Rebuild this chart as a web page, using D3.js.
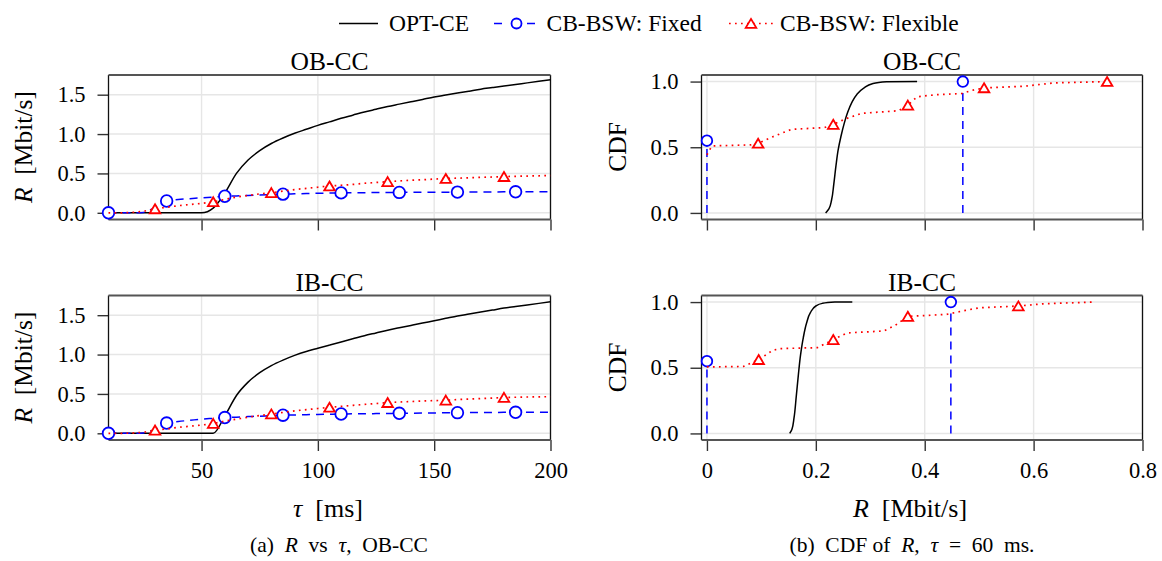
<!DOCTYPE html>
<meta charset="utf-8">
<style>
body { margin: 0; background: #fff; }
.axis text { font-size: 22.5px; }
.axis line { stroke: #333; stroke-width: 1.4px; }
.grid line { stroke: #e6e6e6; stroke-width: 1.4px; }
.opt { fill: none; stroke: #000; stroke-width: 1.5px; }
.fixed { fill: none; stroke: #0000ff; stroke-width: 1.5px; stroke-dasharray: 8,6; }
.flex { fill: none; stroke: #ff0000; stroke-width: 1.7px; stroke-dasharray: 1.7,4.3; }
.mk-c { fill: #fff; stroke: #0000ff; stroke-width: 1.8px; }
.mk-t { fill: #fff; stroke: #ff0000; stroke-width: 1.8px; }
</style>
<body>
<script src="https://d3js.org/d3.v7.min.js"></script>
<script>
// ---- data: (a) R vs tau ----
var tau = [10,15,20,25,30,35,40,45,50,55,60,65,70,75,80,85,90,95,100,105,110,115,120,125,130,135,140,145,150,155,160,165,170,175,180,185,190,195,200];
var optOB = [0,0,0,0,0,0,0,0,0,0.06,0.25,0.5,0.67,0.79,0.88,0.95,1.01,1.06,1.11,1.155,1.2,1.24,1.28,1.315,1.35,1.38,1.41,1.44,1.47,1.495,1.52,1.545,1.57,1.59,1.61,1.63,1.65,1.67,1.69];
var optIB = [0,0,0,0,0,0,0,0,0,0,0.22,0.48,0.65,0.77,0.86,0.93,0.99,1.04,1.08,1.12,1.16,1.2,1.24,1.275,1.31,1.34,1.37,1.4,1.43,1.46,1.49,1.515,1.54,1.565,1.59,1.61,1.63,1.65,1.67];
var fixedOB = [0,0,0,0.005,0.07,0.15,0.17,0.18,0.19,0.2,0.21,0.215,0.22,0.227,0.232,0.237,0.241,0.245,0.248,0.251,0.253,0.255,0.256,0.257,0.258,0.259,0.26,0.261,0.262,0.262,0.263,0.264,0.265,0.265,0.266,0.267,0.267,0.268,0.268];
var fixedIB = [0,0,0,0.005,0.05,0.13,0.15,0.165,0.18,0.19,0.2,0.205,0.212,0.218,0.224,0.23,0.233,0.237,0.24,0.243,0.245,0.247,0.249,0.25,0.252,0.254,0.255,0.257,0.259,0.26,0.262,0.263,0.264,0.265,0.266,0.267,0.267,0.268,0.268];
var flexOB = [0,0,0.005,0.02,0.05,0.07,0.09,0.105,0.12,0.14,0.17,0.2,0.22,0.24,0.255,0.275,0.295,0.31,0.325,0.34,0.35,0.36,0.375,0.385,0.395,0.405,0.413,0.42,0.428,0.435,0.44,0.445,0.45,0.455,0.46,0.463,0.467,0.47,0.473];
var flexIB = [0,0,0.003,0.015,0.04,0.055,0.075,0.09,0.105,0.125,0.155,0.18,0.205,0.225,0.245,0.265,0.285,0.3,0.315,0.33,0.342,0.355,0.367,0.378,0.39,0.397,0.403,0.41,0.415,0.42,0.428,0.435,0.442,0.448,0.455,0.458,0.461,0.463,0.465];
var fixedMarkTau = [10,35,60,85,110,135,160,185];
var flexMarkTau = [30,55,80,105,130,155,180];

// ---- data: (b) CDF of R, tau = 60 ms ----
var optObR   = [0.218,0.224,0.229,0.233,0.237,0.241,0.246,0.252,0.258,0.266,0.275,0.288,0.305,0.33,0.386];
var optObCdf = [0,0.03,0.1,0.22,0.36,0.48,0.58,0.68,0.76,0.84,0.9,0.95,0.985,0.998,1.0];
var optIbR   = [0.152,0.156,0.16,0.164,0.168,0.172,0.177,0.183,0.19,0.2,0.212,0.235,0.267];
var optIbCdf = [0,0.03,0.12,0.28,0.45,0.6,0.73,0.84,0.92,0.97,0.99,1.0,1.0];
var fixedObR = [0, 0.47];
var fixedObCdf = [0.55, 1.0];
var fixedIbR = [0, 0.448];
var fixedIbCdf = [0.55, 1.0];
var flexObR   = [0,0.009,0.08,0.094,0.121,0.155,0.216,0.232,0.257,0.284,0.352,0.369,0.386,0.42,0.468,0.488,0.509,0.584,0.638,0.735];
var flexObCdf = [0.442,0.51,0.518,0.53,0.58,0.636,0.65,0.674,0.72,0.758,0.778,0.82,0.884,0.9,0.909,0.934,0.952,0.965,0.99,1.0];
var flexObMark = [3,7,11,16,19];
var flexIbR   = [0,0.067,0.095,0.121,0.135,0.203,0.232,0.257,0.325,0.346,0.369,0.44,0.475,0.502,0.572,0.618,0.71];
var flexIbCdf = [0.506,0.51,0.562,0.633,0.646,0.653,0.714,0.765,0.78,0.823,0.891,0.906,0.937,0.957,0.97,0.987,1.0];
var flexIbMark = [2,6,10,14];

// ---- ticks ----
var tauTicks = [50,100,150,200];
var rTicks = [0,0.2,0.4,0.6,0.8];
var rTickLabels = ["0","0.2","0.4","0.6","0.8"];
var leftYTicks = [0,0.5,1.0,1.5];
var cdfTicks = [0,0.5,1.0];

var svg = d3.select("body").append("svg")
    .attr("width", 1162)
    .attr("height", 561)
    .style("font-family", "'Liberation Serif', 'Times New Roman', Tinos, 'DejaVu Serif', serif");

var tri = "M0,-4.6L5.3,4.4L-5.3,4.4Z";

// draws frame, grid and axes of one panel, returns the scales
function panel(box, xDom, yDom, xt, xtl, yt, showX, title) {
  var x = d3.scaleLinear().domain(xDom).range([box.x0, box.x1]);
  var y = d3.scaleLinear().domain(yDom).range([box.y1, box.y0]);
  var g = svg.append("g");
  var grid = g.append("g").attr("class", "grid");
  grid.selectAll(".gx").data(xt).enter().append("line")
      .attr("x1", function(d) { return x(d); }).attr("x2", function(d) { return x(d); })
      .attr("y1", box.y0).attr("y2", box.y1);
  grid.selectAll(".gy").data(yt).enter().append("line")
      .attr("y1", function(d) { return y(d); }).attr("y2", function(d) { return y(d); })
      .attr("x1", box.x0).attr("x2", box.x1);
  var ax = g.append("g").attr("class", "axis")
      .attr("transform", "translate(0," + box.y1 + ")")
      .call(d3.axisBottom(x).tickValues(xt).tickSize(11).tickPadding(11)
        .tickFormat(function(d, i) { return showX ? xtl[i] : ""; }));
  var ay = g.append("g").attr("class", "axis")
      .attr("transform", "translate(" + box.x0 + ",0)")
      .call(d3.axisLeft(y).tickValues(yt).tickSize(11).tickPadding(12)
        .tickFormat(d3.format(".1f")));
  [ax, ay].forEach(function(a) {
    a.attr("font-family", null).attr("font-size", null);
    a.select(".domain").remove();
  });
  // frame
  g.append("line").attr("x1", box.x0).attr("x2", box.x0).attr("y1", box.y0).attr("y2", box.y1)
      .attr("stroke", "#111").attr("stroke-width", 1.3);
  g.append("line").attr("x1", box.x1).attr("x2", box.x1).attr("y1", box.y0).attr("y2", box.y1)
      .attr("stroke", "#111").attr("stroke-width", 1.3);
  g.append("line").attr("x1", box.x0).attr("x2", box.x1).attr("y1", box.y0).attr("y2", box.y0)
      .attr("stroke", "#555").attr("stroke-width", 2);
  g.append("line").attr("x1", box.x0).attr("x2", box.x1).attr("y1", box.y1).attr("y2", box.y1)
      .attr("stroke", "#555").attr("stroke-width", 2);
  svg.append("text")
      .attr("x", (box.x0 + box.x1) / 2).attr("y", box.y0 - 5)
      .attr("text-anchor", "middle").style("font-size", "25.5px")
      .text(title);
  return {x: x, y: y};
}

var leftTop  = {x0: 108.5, x1: 550.5, y0: 75, y1: 219.5};
var leftBot  = {x0: 108.5, x1: 550.5, y0: 295.5, y1: 440};
var rightTop = {x0: 701.5, x1: 1142.5, y0: 75, y1: 219.5};
var rightBot = {x0: 701.5, x1: 1142.5, y0: 295.5, y1: 440};

// (a) panels
function tauPanel(box, opt, fixed, flex, showX, title) {
  var s = panel(box, [10, 200], [-0.085, 1.75], tauTicks, tauTicks, leftYTicks, showX, title);
  var line = function(vals) {
    return d3.line().curve(d3.curveMonotoneX)
      .x(function(d, i) { return s.x(tau[i]); })
      .y(function(d) { return s.y(d); })(vals);
  };
  svg.append("path").attr("class", "opt").attr("d", line(opt));
  svg.append("path").attr("class", "fixed").attr("d", line(fixed));
  svg.selectAll(null).data(fixedMarkTau).enter().append("circle")
      .attr("class", "mk-c").attr("r", 5.8)
      .attr("cx", function(t) { return s.x(t); })
      .attr("cy", function(t) { return s.y(fixed[tau.indexOf(t)]); });
  svg.append("path").attr("class", "flex").attr("d", line(flex));
  svg.selectAll(null).data(flexMarkTau).enter().append("path")
      .attr("class", "mk-t").attr("d", tri)
      .attr("transform", function(t) { return "translate(" + s.x(t) + "," + s.y(flex[tau.indexOf(t)]) + ")"; });
}
tauPanel(leftTop, optOB, fixedOB, flexOB, false, "OB-CC");
tauPanel(leftBot, optIB, fixedIB, flexIB, true, "IB-CC");

// (b) panels
function cdfPanel(box, oR, oC, fR, fC, xR, xC, xM, showX, title) {
  var s = panel(box, [-0.01, 0.8], [-0.05, 1.05], rTicks, rTickLabels, cdfTicks, showX, title);
  var line = d3.line().x(function(d) { return s.x(d[0]); }).y(function(d) { return s.y(d[1]); });
  svg.append("path").attr("class", "opt")
      .attr("d", line.curve(d3.curveMonotoneY)(d3.zip(oR, oC)));
  line.curve(d3.curveLinear);
  fR.forEach(function(r, i) {
    svg.append("path").attr("class", "fixed").attr("d", line([[r, 0], [r, fC[i]]]));
  });
  svg.selectAll(null).data(d3.zip(fR, fC)).enter().append("circle")
      .attr("class", "mk-c").attr("r", 5.3)
      .attr("cx", function(d) { return s.x(d[0]); })
      .attr("cy", function(d) { return s.y(d[1]); });
  svg.append("path").attr("class", "flex").attr("d", line(d3.zip(xR, xC)));
  svg.selectAll(null).data(xM).enter().append("path")
      .attr("class", "mk-t").attr("d", tri)
      .attr("transform", function(k) { return "translate(" + s.x(xR[k]) + "," + s.y(xC[k]) + ")"; });
}
cdfPanel(rightTop, optObR, optObCdf, fixedObR, fixedObCdf, flexObR, flexObCdf, flexObMark, false, "OB-CC");
cdfPanel(rightBot, optIbR, optIbCdf, fixedIbR, fixedIbCdf, flexIbR, flexIbCdf, flexIbMark, true, "IB-CC");

// axis labels
function yLabel(xp, yp, parts) {
  var t = svg.append("text").attr("transform", "translate(" + xp + "," + yp + ") rotate(-90)")
      .attr("text-anchor", "middle").style("font-size", "25.5px").style("white-space", "pre");
  parts.forEach(function(p) { t.append("tspan").style("font-style", p[1] ? "italic" : "normal").text(p[0]); });
}
yLabel(31.5, 147, [["R", true], ["  [Mbit/s]", false]]);
yLabel(31.5, 367.5, [["R", true], ["  [Mbit/s]", false]]);
yLabel(626, 147, [["CDF", false]]);
yLabel(626, 367.5, [["CDF", false]]);

function hText(xp, yp, size, parts) {
  var t = svg.append("text").attr("x", xp).attr("y", yp)
      .attr("text-anchor", "middle").style("font-size", size).style("white-space", "pre");
  parts.forEach(function(p) { t.append("tspan").style("font-style", p[1] ? "italic" : "normal").text(p[0]); });
}
hText(328, 517, "26px", [["τ", true], ["  [ms]", false]]);
hText(910, 517, "26px", [["R", true], ["  [Mbit/s]", false]]);
hText(339, 552, "21.5px", [["(a)  ", false], ["R", true], ["  vs  ", false], ["τ", true], [",  OB-CC", false]]);
hText(912, 552, "21.5px", [["(b)  CDF of  ", false], ["R", true], [",  ", false], ["τ", true], ["  =  60  ms.", false]]);

// legend
var lg = svg.append("g");
lg.append("line").attr("class", "opt").attr("x1", 339).attr("x2", 378).attr("y1", 23.5).attr("y2", 23.5);
lg.append("text").attr("x", 389).attr("y", 30.5).style("font-size", "23.5px").text("OPT-CE");
lg.append("line").attr("class", "fixed").style("stroke-dasharray", "8,25")
    .attr("x1", 494).attr("x2", 535).attr("y1", 23.5).attr("y2", 23.5);
lg.append("circle").attr("class", "mk-c").attr("r", 5).attr("cx", 516.5).attr("cy", 23.5);
lg.append("text").attr("x", 546.5).attr("y", 30.5).style("font-size", "23.5px").text("CB-BSW: Fixed");
lg.append("line").attr("class", "flex").attr("x1", 729).attr("x2", 774).attr("y1", 23.5).attr("y2", 23.5);
lg.append("path").attr("class", "mk-t").attr("d", tri).attr("transform", "translate(751,23.5)");
lg.append("text").attr("x", 780).attr("y", 30.5).style("font-size", "23.5px").text("CB-BSW: Flexible");
</script>
</body>
